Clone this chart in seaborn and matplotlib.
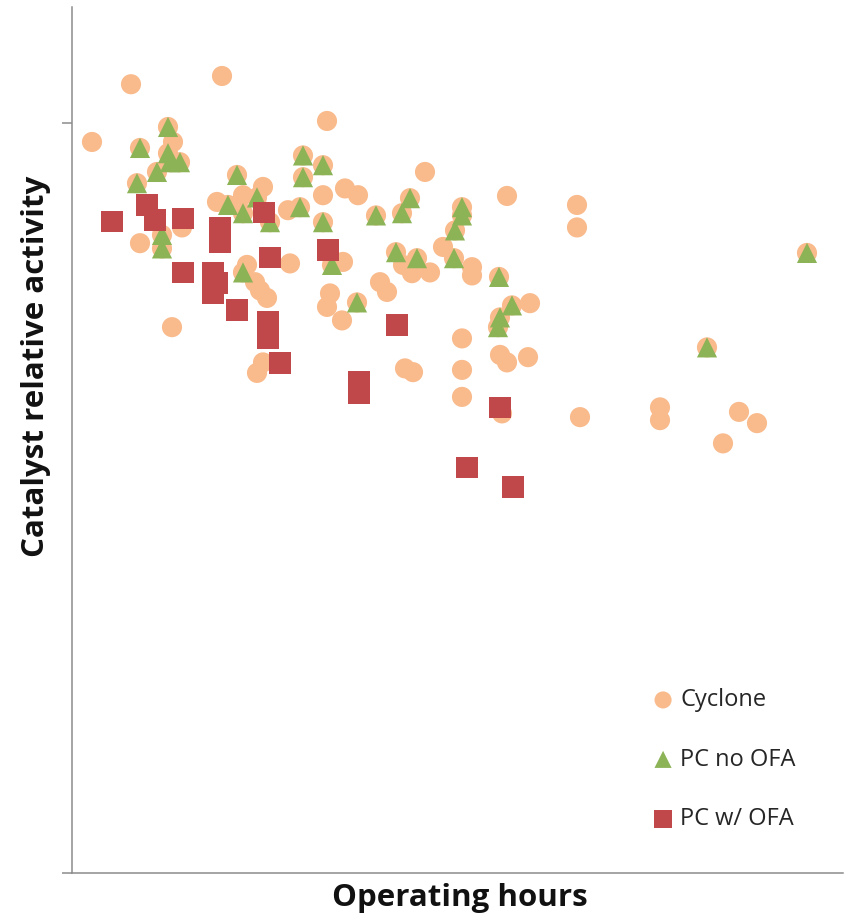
"""Catalyst relative activity versus operating hours, by boiler type."""

import matplotlib

matplotlib.use("Agg")
import matplotlib.pyplot as plt
import seaborn as sns

# Values (hours, relative activity)
cyclone_hours = [
    2000, 5900, 15000, 25500, 10100, 27300, 28600, 25100, 14500, 17100,
    19100, 21600, 6800, 11000, 10000, 21800, 27100, 17500, 18300, 18800,
    19500, 18500, 19100, 25800, 25500, 27000, 35300, 43500, 50500, 50500,
    33100, 34000, 35800, 37100, 40000, 40000, 30800, 31500, 45800, 39000,
    42800, 43500, 45600, 33300, 34100, 39000, 39000, 43000, 50800, 58800,
    58800, 66700, 68500, 65100,
    # points sitting behind the PC no OFA triangles
    6800, 9600, 9600, 10800, 8500, 9800, 6500, 16500, 23100, 25100,
    23100, 22800, 15600, 18500, 17100, 19800, 25100, 9000, 9000, 26000,
    17100, 28500, 30400, 33800, 33000, 39000, 39000, 38300, 32400, 34500,
    38200, 42700, 44000, 42800, 42600, 73500, 63500,
]
cyclone_activity = [
    0.975, 1.052, 1.063, 1.003, 0.975, 0.913, 0.904, 0.904, 0.895, 0.904,
    0.915, 0.884, 0.840, 0.861, 0.728, 0.813, 0.815, 0.811, 0.788, 0.777,
    0.767, 0.667, 0.681, 0.773, 0.755, 0.737, 0.935, 0.903, 0.891, 0.861,
    0.811, 0.800, 0.801, 0.835, 0.808, 0.797, 0.788, 0.775, 0.760, 0.713,
    0.691, 0.681, 0.688, 0.673, 0.668, 0.671, 0.635, 0.613, 0.608, 0.621,
    0.604, 0.615, 0.600, 0.573,
    0.967, 0.995, 0.960, 0.948, 0.935, 0.948, 0.920, 0.931, 0.957, 0.944,
    0.928, 0.888, 0.891, 0.901, 0.880, 0.868, 0.868, 0.851, 0.833, 0.811,
    0.801, 0.761, 0.877, 0.900, 0.880, 0.888, 0.877, 0.857, 0.828, 0.820,
    0.820, 0.795, 0.757, 0.741, 0.728, 0.827, 0.701,
]

pc_no_ofa_hours = [
    6800, 9600, 9600, 10800, 8500, 9800, 6500, 16500, 23100, 25100,
    23100, 22800, 15600, 18500, 17100, 19800, 25100, 9000, 9000, 26000,
    17100, 28500, 30400, 33800, 33000, 39000, 39000, 38300, 32400, 34500,
    38200, 42700, 44000, 42800, 42600, 73500, 63500,
]
pc_no_ofa_activity = [
    0.967, 0.995, 0.960, 0.948, 0.935, 0.948, 0.920, 0.931, 0.957, 0.944,
    0.928, 0.888, 0.891, 0.901, 0.880, 0.868, 0.868, 0.851, 0.833, 0.811,
    0.801, 0.761, 0.877, 0.900, 0.880, 0.888, 0.877, 0.857, 0.828, 0.820,
    0.820, 0.795, 0.757, 0.741, 0.728, 0.827, 0.701,
]

pc_ofa_hours = [
    4000, 7500, 8300, 11100, 14800, 14800, 19200, 11100, 14100, 14500,
    14100, 16500, 19600, 19600, 20800, 19800, 25600, 32500, 28700, 28700,
    42800, 39500, 44100,
]
pc_ofa_activity = [
    0.869, 0.891, 0.871, 0.873, 0.860, 0.841, 0.881, 0.801, 0.801, 0.787,
    0.773, 0.751, 0.735, 0.713, 0.680, 0.821, 0.831, 0.731, 0.655, 0.640,
    0.621, 0.541, 0.515,
]

COLORS = {"Cyclone": "#F9BA8C", "PC no OFA": "#8CB356", "PC w/ OFA": "#C0474A"}
AXIS_GRAY = "#8C8C8C"

sns.set_style("white")
plt.rcParams["font.family"] = ["Open Sans", "DejaVu Sans"]

fig = plt.figure(figsize=(8.5, 9.23), dpi=100)
ax = fig.add_axes([72 / 850, 50 / 923, 771 / 850, 866 / 923])

sns.scatterplot(x=cyclone_hours, y=cyclone_activity, marker="o", s=210,
                color=COLORS["Cyclone"], edgecolor="none", label="Cyclone", ax=ax)
sns.scatterplot(x=pc_no_ofa_hours, y=pc_no_ofa_activity, marker="^", s=210,
                color=COLORS["PC no OFA"], edgecolor="none", label="PC no OFA", ax=ax)
sns.scatterplot(x=pc_ofa_hours, y=pc_ofa_activity, marker="s", s=240,
                color=COLORS["PC w/ OFA"], edgecolor="none", label="PC w/ OFA", ax=ax)

ax.set_xlim(0, 77100)
ax.set_ylim(0, 1.155)
ax.set_xticks([])
ax.set_yticks([0, 1.0])
ax.set_yticklabels([])
ax.tick_params(axis="y", direction="out", length=7.2, width=1.1, color=AXIS_GRAY, left=True)

for side in ("top", "right"):
    ax.spines[side].set_visible(False)
for side in ("left", "bottom"):
    ax.spines[side].set_color(AXIS_GRAY)
    ax.spines[side].set_linewidth(1.1)

ax.set_xlabel("Operating hours", fontsize=22.5, fontweight="bold", color="#111111")
ax.set_ylabel("Catalyst relative activity", fontsize=22.5, fontweight="bold", color="#111111")
ax.xaxis.set_label_coords(0.503, -0.012)
ax.yaxis.set_label_coords(-0.027, 0.585)

ax.legend(loc="center left", bbox_to_anchor=(0.7536, 0.131), frameon=False,
          fontsize=17, markerscale=0.85, handlelength=0.85, handletextpad=0.3,
          labelspacing=1.5, borderpad=0, borderaxespad=0)

fig.savefig("out.png", dpi=100)
plt.close(fig)
